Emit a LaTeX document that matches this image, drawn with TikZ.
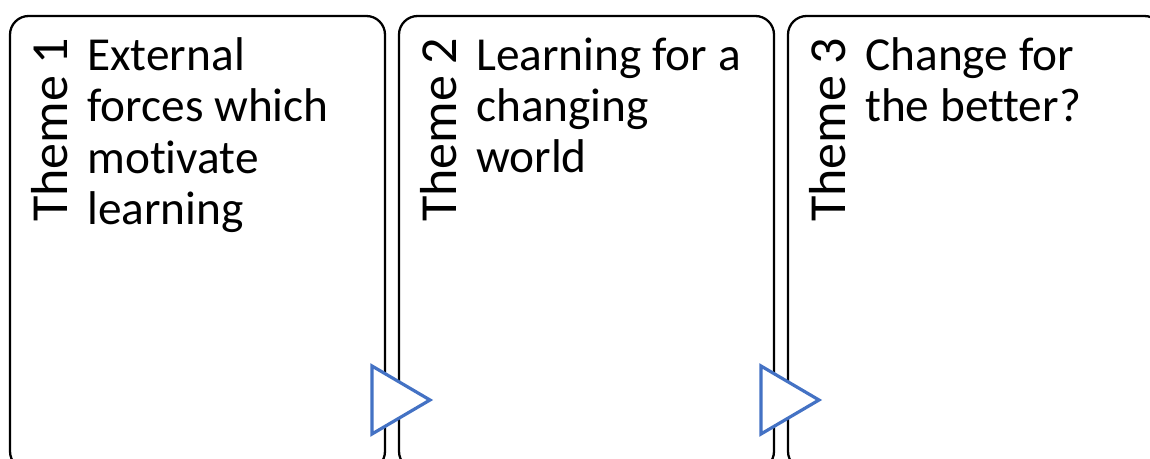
\documentclass[tikz,border=0pt]{standalone}
\usepackage{fontspec}
\setmainfont{Carlito}[Ligatures={NoCommon,NoRare}]
\definecolor{triblue}{RGB}{68,114,196}
\begin{document}
\begin{tikzpicture}[x=0.75pt,y=-0.75pt,
  themebox/.style={draw=black, line width=1.7pt, rounded corners=14pt},
  themelabel/.style={rotate=90, anchor=base west, inner sep=0pt, font=\fontsize{39}{46}\selectfont},
  themetext/.style={anchor=base west, inner sep=0pt, align=left, font=\fontsize{35.5}{38.6}\selectfont},
  arrowtri/.style={draw=triblue, fill=white, line width=2.4pt, line join=miter}]
\useasboundingbox (0,0) rectangle (1150,459);
\clip (0,0) rectangle (1150,459);
\foreach \i/\lab/\n/\txt in {0/1/4/{External\\forces which\\motivate\\learning},
                          1/2/3/{Learning for a\\changing\\world},
                          2/3/2/{Change for\\the better?}}{
  \pgfmathsetmacro{\L}{10+389*\i}
  \pgfmathsetmacro{\B}{70+51.5*(\n-1)}
  \draw[themebox] (\L,16) rectangle ({\L+375},470);
  \node[themelabel] (label\lab) at ({\L+57},222) {Theme \lab};
  \node[themetext] (text\lab) at ({\L+77},\B) {\txt};
}
\coordinate (t1a) at (372,366);
\coordinate (t1b) at (430,400);
\coordinate (t1c) at (372,434);
\draw[arrowtri] (t1a) -- (t1b) -- (t1c) -- cycle;
\coordinate (t2a) at (761,366);
\coordinate (t2b) at (819,400);
\coordinate (t2c) at (761,434);
\draw[arrowtri] (t2a) -- (t2b) -- (t2c) -- cycle;
\end{tikzpicture}
\end{document}
